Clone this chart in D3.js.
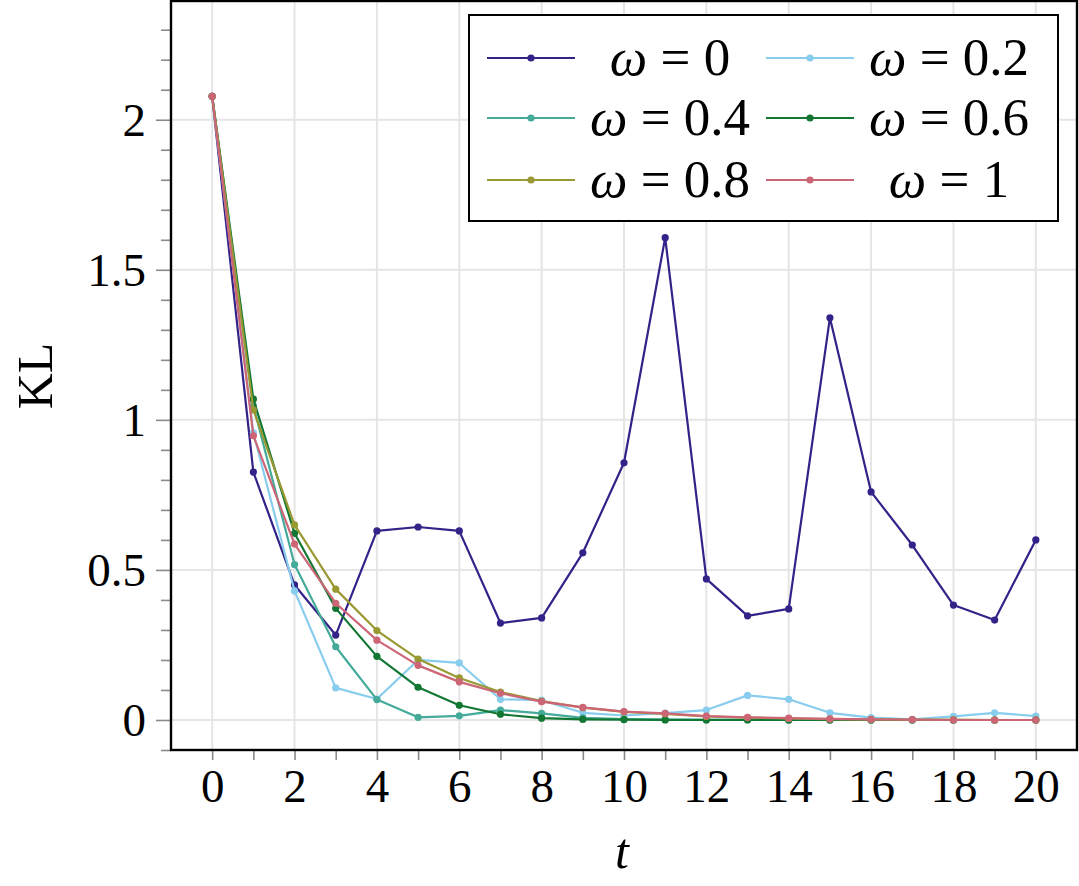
<!DOCTYPE html>
<html>
<head>
<meta charset="utf-8">
<script src="https://cdn.jsdelivr.net/npm/d3@7"></script>
<style>
  html, body { margin: 0; padding: 0; background: #fff; }
  svg { display: block; }
  svg text { font-family: "Liberation Serif", "DejaVu Serif", serif !important; fill: #000; }
</style>
</head>
<body>
<svg id="chart" width="1079" height="886"></svg>
<script>
// ---- data ----
const tValues = [0,1,2,3,4,5,6,7,8,9,10,11,12,13,14,15,16,17,18,19,20];
const seriesLabels = ["0", "0.2", "0.4", "0.6", "0.8", "1"];
const seriesColors = ["#332288", "#88CCEE", "#44AA99", "#117733", "#999933", "#CC6677"];
const kl_w0   = [2.078,0.826,0.45,0.283,0.63,0.643,0.63,0.323,0.34,0.557,0.857,1.607,0.47,0.347,0.37,1.34,0.76,0.583,0.383,0.333,0.6];
const kl_w02  = [2.078,0.957,0.43,0.107,0.07,0.2,0.19,0.069,0.066,0.024,0.015,0.023,0.033,0.082,0.069,0.024,0.008,0.002,0.012,0.024,0.013];
const kl_w04  = [2.078,1.047,0.518,0.244,0.068,0.009,0.014,0.033,0.022,0.007,0.003,0.002,0.001,0.001,0.0,0.0,0.0,0.0,0.0,0.0,0.0];
const kl_w06  = [2.078,1.069,0.622,0.372,0.212,0.109,0.049,0.019,0.006,0.002,0.001,0.0,0.0,0.0,0.0,0.0,0.0,0.0,0.0,0.0,0.0];
const kl_w08  = [2.078,1.033,0.65,0.436,0.298,0.203,0.14,0.093,0.063,0.041,0.027,0.02,0.012,0.008,0.005,0.003,0.002,0.001,0.001,0.0,0.0];
const kl_w1   = [2.078,0.947,0.586,0.389,0.266,0.182,0.127,0.089,0.061,0.042,0.028,0.022,0.013,0.009,0.006,0.004,0.002,0.001,0.0,0.0,0.0];
const seriesValues = [kl_w0, kl_w02, kl_w04, kl_w06, kl_w08, kl_w1];
const xTickLabels = [0,2,4,6,8,10,12,14,16,18,20];
const xMinorTicks = [1,3,5,7,9,11,13,15,17,19];
const yTickLabels = [0, 0.5, 1, 1.5, 2];
const yMinorTicks = [-0.1,0.1,0.2,0.3,0.4,0.6,0.7,0.8,0.9,1.1,1.2,1.3,1.4,1.6,1.7,1.8,1.9,2.1,2.2,2.3];

// ---- layout ----
const svg = d3.select("#chart");
const L = 171, R = 1077, T = 1, B = 750;
const x = d3.scaleLinear().domain([-1, 21]).range([L, R]);
const y = d3.scaleLinear().domain([-0.1, 2.4]).range([B, -0.3]);

svg.append("defs").append("clipPath").attr("id", "clip")
  .append("rect").attr("x", L).attr("y", 0).attr("width", R - L).attr("height", B);

// grid
const grid = svg.append("g");
grid.selectAll("line.vx").data(xTickLabels).join("line")
  .attr("x1", d => x(d)).attr("x2", d => x(d)).attr("y1", 0).attr("y2", B)
  .attr("stroke", "#e5e5e5").attr("stroke-width", 2);
grid.selectAll("line.hy").data(yTickLabels).join("line")
  .attr("x1", L).attr("x2", R).attr("y1", d => y(d)).attr("y2", d => y(d))
  .attr("stroke", "#e5e5e5").attr("stroke-width", 2);

// axes via d3
const xAxis = d3.axisBottom(x).tickValues(xTickLabels).tickSize(10).tickPadding(9).tickFormat(d3.format("d"));
const xMinor = d3.axisBottom(x).tickValues(xMinorTicks).tickSize(10).tickFormat("");
const yAxis = d3.axisLeft(y).tickValues(yTickLabels).tickSize(15).tickPadding(10).tickFormat(d => String(d));
const yMinor = d3.axisLeft(y).tickValues(yMinorTicks).tickSize(10).tickFormat("");

function styleAxis(g) {
  g.attr("font-family", null).attr("font-size", null);
  g.select(".domain").remove();
  g.selectAll(".tick line").attr("stroke", "#8a8a8a").attr("stroke-width", 1.6);
  g.selectAll(".tick text").style("font-size", "47px").attr("fill", "#000");
}
svg.append("g").attr("transform", `translate(0,${B})`).call(xAxis).call(styleAxis);
svg.append("g").attr("transform", `translate(0,${B})`).call(xMinor).call(styleAxis);
svg.append("g").attr("transform", `translate(${L},0)`).call(yAxis).call(styleAxis)
  .selectAll(".tick text").attr("dy", "0.34em");
svg.append("g").attr("transform", `translate(${L},0)`).call(yMinor).call(styleAxis);

// series
const plot = svg.append("g").attr("clip-path", "url(#clip)");
const line = d3.line().x((d, i) => x(tValues[i])).y(d => y(d));
seriesValues.forEach((vals, k) => {
  const g = plot.append("g");
  g.append("path").datum(vals).attr("d", line)
    .attr("fill", "none").attr("stroke", seriesColors[k]).attr("stroke-width", 2.2)
    .attr("stroke-linejoin", "round");
  g.selectAll("circle").data(vals).join("circle")
    .attr("cx", (d, i) => x(tValues[i])).attr("cy", d => y(d)).attr("r", 3.6)
    .attr("fill", seriesColors[k]);
});

// frame
svg.append("rect").attr("x", L).attr("y", T).attr("width", R - L).attr("height", B - T)
  .attr("fill", "none").attr("stroke", "#000").attr("stroke-width", 2.4);

// axis labels
svg.append("text").attr("x", x(10) - 2).attr("y", 868).attr("text-anchor", "middle")
  .style("font-size", "50px").style("font-style", "italic").text("t");
svg.append("text").attr("transform", "translate(52,376) rotate(-90)").attr("text-anchor", "middle")
  .style("font-size", "50px").text("KL");

// legend
const lg = svg.append("g");
lg.append("rect").attr("x", 469).attr("y", 15).attr("width", 589).attr("height", 206)
  .attr("fill", "#fff").attr("stroke", "#000").attr("stroke-width", 2);
const colLineX = [487, 766];
const colTextCX = [670, 949];
const rowY = [58, 118, 180];
seriesLabels.forEach((lab, k) => {
  const c = k % 2, r = Math.floor(k / 2);
  const x0 = colLineX[c], yy = rowY[r];
  lg.append("line").attr("x1", x0).attr("x2", x0 + 88).attr("y1", yy).attr("y2", yy)
    .attr("stroke", seriesColors[k]).attr("stroke-width", 2.2);
  lg.append("circle").attr("cx", x0 + 44).attr("cy", yy).attr("r", 3.6).attr("fill", seriesColors[k]);
  const t = lg.append("text").attr("x", colTextCX[c]).attr("y", yy).attr("dy", "0.33em")
    .attr("text-anchor", "middle").style("font-size", "53px");
  t.append("tspan").style("font-style", "italic").text("ω");
  t.append("tspan").text(" = " + lab);
});
</script>
</body>
</html>
